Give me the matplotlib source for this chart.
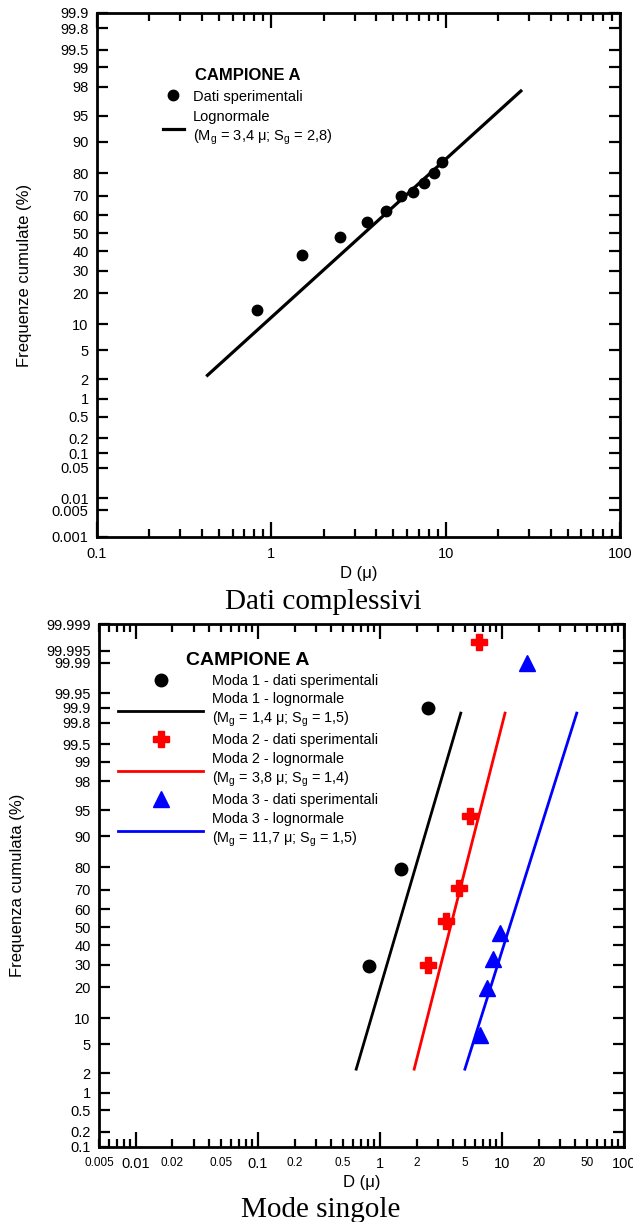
import math
import numpy as np
import matplotlib
matplotlib.use('Agg')
import matplotlib.pyplot as plt
from matplotlib.ticker import FuncFormatter, NullFormatter, NullLocator

plt.rcParams['font.family'] = ['Liberation Sans', 'DejaVu Sans']
plt.rcParams['mathtext.fontset'] = 'custom'
plt.rcParams['mathtext.rm'] = 'Liberation Sans'
plt.rcParams['mathtext.default'] = 'regular'

# --- data: Dati complessivi ---
d_all = [0.83, 1.50, 2.49, 3.52, 4.52, 5.51, 6.52, 7.5, 8.57, 9.57]
f_all = [14, 38, 48, 56, 62, 70, 72, 76, 80, 84]
logn_d = [0.43, 27]
logn_f = [2.3, 97.7]

# --- data: Mode singole ---
moda1_d = [0.81, 1.50, 2.5]
moda1_f = [29.5, 79.5, 99.90]
moda2_d = [2.48, 3.47, 4.47, 5.46, 6.47]
moda2_f = [29.8, 53.5, 70.8, 94.1, 99.997]
moda3_d = [6.6, 7.57, 8.49, 9.63, 15.9]
moda3_f = [6.5, 19.5, 32.6, 46.7, 99.99]
fit1_d = [0.64, 4.6]
fit2_d = [1.91, 10.6]
fit3_d = [4.97, 41]
fit_f = [2.3, 99.87]

yticks_top = [0.001, 0.005, 0.01, 0.05, 0.1, 0.2, 0.5, 1, 2, 5, 10, 20, 30, 40, 50,
              60, 70, 80, 90, 95, 98, 99, 99.5, 99.8, 99.9]
yticks_bot = [0.1, 0.2, 0.5, 1, 2, 5, 10, 20, 30, 40, 50, 60, 70, 80, 90, 95, 98,
              99, 99.5, 99.8, 99.9, 99.95, 99.99, 99.995, 99.999]


# probability scale (normal quantile), inverse normal by Acklam's approximation
def ppf(p):
    p = np.clip(np.asarray(p, dtype=float) / 100.0, 1e-12, 1 - 1e-12)
    a = [-3.969683028665376e+01, 2.209460984245205e+02, -2.759285104469687e+02,
         1.383577518672690e+02, -3.066479806614716e+01, 2.506628277459239e+00]
    b = [-5.447609879822406e+01, 1.615858368580409e+02, -1.556989798598866e+02,
         6.680131188771972e+01, -1.328068155288572e+01]
    c = [-7.784894002430293e-03, -3.223964580411365e-01, -2.400758277161838e+00,
         -2.549671010366888e+00, 4.374664141464968e+00, 2.938163982698783e+00]
    d = [7.784695709041462e-03, 3.224671290700398e-01, 2.445134137142996e+00,
         3.754408661907416e+00]
    plow = 0.02425
    z = np.empty_like(p)
    lo = p < plow
    hi = p > 1 - plow
    mid = ~(lo | hi)
    q = np.sqrt(-2 * np.log(p[lo]))
    z[lo] = (((((c[0]*q+c[1])*q+c[2])*q+c[3])*q+c[4])*q+c[5]) / ((((d[0]*q+d[1])*q+d[2])*q+d[3])*q+1)
    q = np.sqrt(-2 * np.log(1 - p[hi]))
    z[hi] = -(((((c[0]*q+c[1])*q+c[2])*q+c[3])*q+c[4])*q+c[5]) / ((((d[0]*q+d[1])*q+d[2])*q+d[3])*q+1)
    q = p[mid] - 0.5
    r = q * q
    z[mid] = (((((a[0]*r+a[1])*r+a[2])*r+a[3])*r+a[4])*r+a[5])*q / (((((b[0]*r+b[1])*r+b[2])*r+b[3])*r+b[4])*r+1)
    return z


_erf = np.vectorize(math.erf)


def cdf(z):
    return 50.0 * (1 + _erf(np.asarray(z, dtype=float) / math.sqrt(2)))


def minor_fmt(v, pos):
    m = v / 10 ** np.floor(np.log10(v) + 1e-9)
    return '%g' % v if round(m) in (2, 5) else ''


def style_axes(ax, yticks, ylim, xlim, minor_labels):
    ax.set_xscale('log')
    ax.set_yscale('function', functions=(ppf, cdf))
    ax.set_xlim(*xlim)
    ax.set_ylim(*ylim)
    ax.set_yticks(yticks, ['%g' % t for t in yticks])
    ax.yaxis.set_minor_locator(NullLocator())
    ax.xaxis.set_major_formatter(FuncFormatter(lambda v, p: '%g' % v))
    if minor_labels:
        ax.xaxis.set_minor_formatter(FuncFormatter(minor_fmt))
    else:
        ax.xaxis.set_minor_formatter(NullFormatter())
    for s in ax.spines.values():
        s.set_linewidth(2)
    ax.tick_params(which='both', direction='in', top=True, right=True, width=1.6, colors='black')
    ax.tick_params(axis='y', length=8, labelsize=10.5, pad=6)
    ax.tick_params(axis='x', which='major', length=11, labelsize=10.5, pad=7)
    ax.tick_params(axis='x', which='minor', length=6, labelsize=8.5, pad=7)


fig = plt.figure(figsize=(6.33, 12.22), dpi=100)

# ---------------- top: Dati complessivi ----------------
ax1 = fig.add_axes([97/633, 1-537/1222, 523/633, 524/1222])
style_axes(ax1, yticks_top, (0.001, 99.9), (0.1, 100), False)
pts, = ax1.plot(d_all, f_all, 'o', color='black', markersize=7.5, linestyle='none')
ln, = ax1.plot(logn_d, logn_f, '-', color='black', linewidth=2.3)
ax1.set_xlabel('D (μ)', fontsize=12)
ax1.xaxis.set_label_coords(0.5, -0.055)
ax1.set_ylabel('Frequenze cumulate (%)', fontsize=12)
ax1.yaxis.set_label_coords(-0.124, 0.5)
leg1 = ax1.legend([pts, ln], ['Dati sperimentali', 'Lognormale\n(M$_g$ = 3,4 μ; S$_g$ = 2,8)'],
                  title='CAMPIONE A', title_fontproperties={'weight': 'bold', 'size': 12},
                  loc='upper left', bbox_to_anchor=(0.126, 0.895), frameon=False,
                  fontsize=10.5, borderpad=0, borderaxespad=0, handlelength=1.45,
                  handletextpad=0.6, labelspacing=0.45)
for t in leg1.get_texts():
    t.set_linespacing(1.3)

fig.text(323/633, 1-609/1222, 'Dati complessivi', fontfamily='Liberation Serif',
         fontsize=21, ha='center', va='baseline')

# ---------------- bottom: Mode singole ----------------
ax2 = fig.add_axes([99/633, 1-1147/1222, 525/633, 523/1222])
style_axes(ax2, yticks_bot, (0.1, 99.999), (0.005, 100), True)
p1, = ax2.plot(moda1_d, moda1_f, 'o', color='black', markersize=9, linestyle='none')
l1, = ax2.plot(fit1_d, fit_f, '-', color='black', linewidth=2)
p2, = ax2.plot(moda2_d, moda2_f, 'P', color='red', markersize=12, linestyle='none')
l2, = ax2.plot(fit2_d, fit_f, '-', color='red', linewidth=2)
p3, = ax2.plot(moda3_d, moda3_f, '^', color='blue', markersize=12, linestyle='none')
l3, = ax2.plot(fit3_d, fit_f, '-', color='blue', linewidth=2)
ax2.set_xlabel('D (μ)', fontsize=12)
ax2.xaxis.set_label_coords(0.5, -0.054)
ax2.set_ylabel('Frequenza cumulata (%)', fontsize=12)
ax2.yaxis.set_label_coords(-0.141, 0.5)
leg2 = ax2.legend([p1, l1, p2, l2, p3, l3],
                  ['Moda 1 - dati sperimentali', 'Moda 1 - lognormale\n(M$_g$ = 1,4 μ; S$_g$ = 1,5)',
                   'Moda 2 - dati sperimentali', 'Moda 2 - lognormale\n(M$_g$ = 3,8 μ; S$_g$ = 1,4)',
                   'Moda 3 - dati sperimentali', 'Moda 3 - lognormale\n(M$_g$ = 11,7 μ; S$_g$ = 1,5)'],
                  title='CAMPIONE A', title_fontproperties={'weight': 'bold', 'size': 14},
                  loc='upper left', bbox_to_anchor=(0.036, 0.946), frameon=False,
                  fontsize=10.4, borderpad=0, borderaxespad=0, handlelength=5.9,
                  handletextpad=0.6, labelspacing=0.3)
for t in leg2.get_texts():
    t.set_linespacing(1.3)

fig.text(321/633, 1-1217/1222, 'Mode singole', fontfamily='Liberation Serif',
         fontsize=21, ha='center', va='baseline')

fig.savefig('out.png', dpi=100)
